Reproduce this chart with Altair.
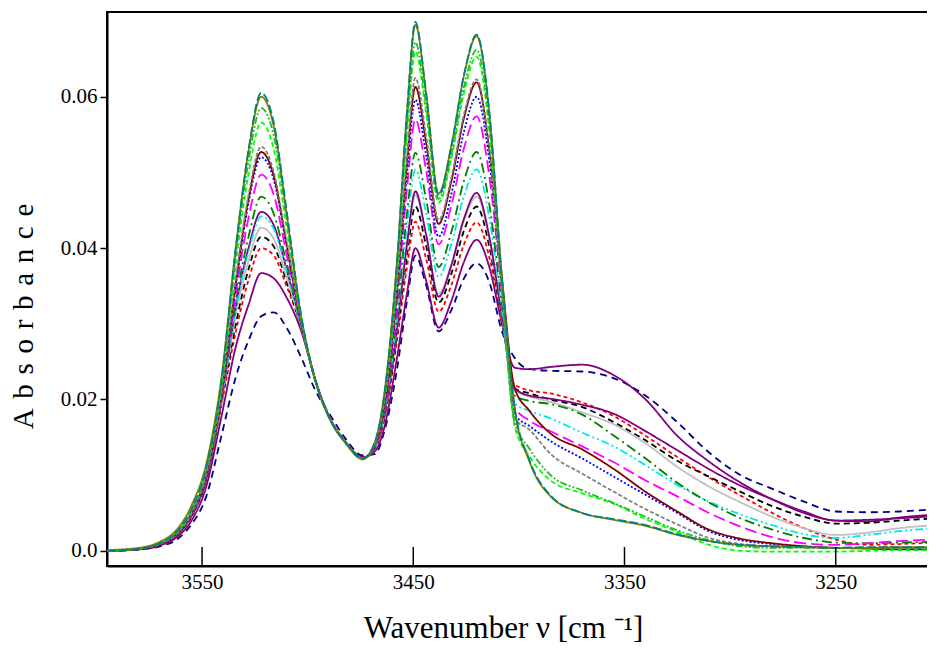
import altair as alt
import pandas as pd

WN = [3595, 3580, 3570, 3562, 3555, 3548, 3541, 3534, 3528, 3522, 3516, 3510, 3503, 3496, 3489,
      3482, 3474, 3468, 3464, 3458, 3453, 3449, 3444, 3438, 3432, 3426, 3420, 3414, 3408, 3402,
      3395, 3385, 3370, 3355, 3340, 3325, 3310, 3295, 3280, 3265, 3250, 3235, 3220, 3203]

navy = [0.0000, 0.0002, 0.0006, 0.0015, 0.0035, 0.0072, 0.0150,
        0.0230, 0.0278, 0.0310, 0.0315, 0.0295, 0.0255,
        0.0210, 0.0178, 0.0148, 0.0126, 0.0128,
        0.0155, 0.0235, 0.0330, 0.0390, 0.0352, 0.0290, 0.0318, 0.0360, 0.0380, 0.0355, 0.0290,
        0.0255, 0.0240, 0.0238, 0.0237, 0.0228, 0.0205, 0.0170, 0.0130, 0.0100, 0.0082, 0.0065, 0.0052, 0.0051, 0.0052, 0.0055]
purple2 = [0.0000, 0.0002, 0.0007, 0.0018, 0.0040, 0.0085, 0.0175, 0.0270, 0.0325, 0.0367, 0.0360, 0.0335, 0.0290,
           0.0222, 0.0173, 0.0144, 0.0124, 0.0132, 0.0160, 0.0250, 0.0340, 0.0400, 0.0358, 0.0295, 0.0330, 0.0382,
           0.0411, 0.0375, 0.0300, 0.0242, 0.0240, 0.0243, 0.0246, 0.0232, 0.0200, 0.0152, 0.0118, 0.0090, 0.0068,
           0.0050, 0.0040, 0.0039, 0.0044, 0.0048]
red = [0.0000, 0.0002, 0.0008, 0.0020, 0.0045, 0.0093, 0.0190, 0.0290, 0.0358, 0.0400, 0.0390, 0.0350, 0.0295,
       0.0223, 0.0173, 0.0144, 0.0123, 0.0136, 0.0170, 0.0272, 0.0375, 0.0435, 0.0387, 0.0316, 0.0351, 0.0405,
       0.0434, 0.0388, 0.0302, 0.0220, 0.0212, 0.0208, 0.0196, 0.0178, 0.0152, 0.0124, 0.0097, 0.0073, 0.0050,
       0.0030, 0.0015, 0.0008, 0.0009, 0.0011]
black = [0.0000, 0.0002, 0.0008, 0.0021, 0.0046, 0.0095, 0.0193, 0.0300, 0.0372, 0.0415, 0.0402, 0.0356, 0.0295,
         0.0222, 0.0172, 0.0143, 0.0122, 0.0137, 0.0172, 0.0280, 0.0390, 0.0455, 0.0404, 0.0328, 0.0366, 0.0423,
         0.0455, 0.0402, 0.0305, 0.0215, 0.0208, 0.0200, 0.0190, 0.0170, 0.0146, 0.0119, 0.0098, 0.0078, 0.0059,
         0.0045, 0.0036, 0.0037, 0.0040, 0.0043]
silver = [0.0000, 0.0003, 0.0009, 0.0022, 0.0048, 0.0097, 0.0195, 0.0312, 0.0383, 0.0427, 0.0412, 0.0362, 0.0296,
          0.0222, 0.0172, 0.0143, 0.0122, 0.0138, 0.0175, 0.0287, 0.0402, 0.0470, 0.0418, 0.0340, 0.0378, 0.0436,
          0.0468, 0.0412, 0.0308, 0.0212, 0.0204, 0.0197, 0.0183, 0.0167, 0.0142, 0.0111, 0.0085, 0.0064, 0.0045,
          0.0030, 0.0021, 0.0024, 0.0030, 0.0034]
purple = [0.0000, 0.0002, 0.0008, 0.0021, 0.0046, 0.0095, 0.0195, 0.0322, 0.0400, 0.0448, 0.0430, 0.0372, 0.0298,
          0.0222, 0.0172, 0.0143, 0.0122, 0.0138, 0.0175, 0.0288, 0.0405, 0.0475, 0.0419, 0.0336, 0.0377, 0.0439,
          0.0473, 0.0415, 0.0310, 0.0215, 0.0205, 0.0201, 0.0193, 0.0181, 0.0158, 0.0133, 0.0108, 0.0086, 0.0068,
          0.0052, 0.0040, 0.0041, 0.0043, 0.0046]
cyan = [0.0000, 0.0003, 0.0009, 0.0022, 0.0048, 0.0098, 0.0196, 0.0320, 0.0395, 0.0442, 0.0425, 0.0370, 0.0297,
        0.0222, 0.0172, 0.0143, 0.0122, 0.0139, 0.0178, 0.0298, 0.0428, 0.0504, 0.0447, 0.0362, 0.0405, 0.0469,
        0.0504, 0.0440, 0.0318, 0.0195, 0.0185, 0.0175, 0.0156, 0.0138, 0.0113, 0.0087, 0.0065, 0.0048, 0.0034,
        0.0022, 0.0017, 0.0021, 0.0026, 0.0030]
dkgreen = [0.0000, 0.0003, 0.0009, 0.0022, 0.0049, 0.0099, 0.0198, 0.0330, 0.0415, 0.0468, 0.0445, 0.0380, 0.0298,
           0.0222, 0.0172, 0.0143, 0.0122, 0.0140, 0.0180, 0.0305, 0.0445, 0.0526, 0.0466, 0.0375, 0.0421, 0.0489,
           0.0527, 0.0458, 0.0325, 0.0205, 0.0198, 0.0194, 0.0180, 0.0152, 0.0122, 0.0090, 0.0064, 0.0043, 0.0028,
           0.0017, 0.0011, 0.0010, 0.0011, 0.0012]
magenta = [0.0000, 0.0003, 0.0009, 0.0022, 0.0049, 0.0100, 0.0200, 0.0340, 0.0440, 0.0497, 0.0470, 0.0392, 0.0300,
           0.0222, 0.0172, 0.0143, 0.0122, 0.0141, 0.0184, 0.0320, 0.0478, 0.0570, 0.0504, 0.0405, 0.0456, 0.0532,
           0.0574, 0.0495, 0.0340, 0.0190, 0.0172, 0.0158, 0.0138, 0.0117, 0.0093, 0.0072, 0.0050, 0.0032, 0.0018,
           0.0010, 0.0008, 0.0010, 0.0013, 0.0015]
blue = [0.0000, 0.0003, 0.0009, 0.0023, 0.0050, 0.0101, 0.0203, 0.0350, 0.0460, 0.0520, 0.0490, 0.0403, 0.0302,
        0.0222, 0.0172, 0.0143, 0.0122, 0.0142, 0.0186, 0.0330, 0.0497, 0.0596, 0.0524, 0.0415, 0.0471, 0.0554,
        0.0600, 0.0515, 0.0345, 0.0180, 0.0165, 0.0145, 0.0122, 0.0098, 0.0074, 0.0050, 0.0026, 0.0014, 0.0009,
        0.0006, 0.0004, 0.0004, 0.0003, 0.0003]
maroon = [0.0000, 0.0003, 0.0009, 0.0023, 0.0050, 0.0101, 0.0203, 0.0355, 0.0465, 0.0527, 0.0495, 0.0406, 0.0302,
          0.0222, 0.0172, 0.0143, 0.0122, 0.0142, 0.0188, 0.0335, 0.0512, 0.0613, 0.0541, 0.0432, 0.0488, 0.0572,
          0.0619, 0.0530, 0.0360, 0.0215, 0.0185, 0.0155, 0.0134, 0.0108, 0.0078, 0.0052, 0.0028, 0.0016, 0.0010,
          0.0006, 0.0004, 0.0003, 0.0002, 0.0002]
grey = [0.0000, 0.0003, 0.0009, 0.0023, 0.0050, 0.0102, 0.0205, 0.0360, 0.0470, 0.0534, 0.0500, 0.0410, 0.0303,
        0.0222, 0.0172, 0.0143, 0.0122, 0.0143, 0.0190, 0.0340, 0.0520, 0.0625, 0.0550, 0.0437, 0.0493, 0.0577,
        0.0623, 0.0530, 0.0340, 0.0175, 0.0160, 0.0128, 0.0102, 0.0078, 0.0055, 0.0035, 0.0017, 0.0009, 0.0006,
        0.0005, 0.0004, 0.0004, 0.0004, 0.0004]
lime = [0.0000, 0.0003, 0.0010, 0.0024, 0.0053, 0.0106, 0.0212, 0.0380, 0.0498, 0.0566, 0.0530, 0.0428, 0.0305,
        0.0221, 0.0172, 0.0143, 0.0122, 0.0144, 0.0196, 0.0355, 0.0550, 0.0660, 0.0580, 0.0460, 0.0518, 0.0605,
        0.0653, 0.0555, 0.0350, 0.0165, 0.0125, 0.0093, 0.0076, 0.0062, 0.0042, 0.0025, 0.0008, 0.0000, -0.0001,
        -0.0001, -0.0001, 0.0000, 0.0001, 0.0001]
green = [0.0000, 0.0003, 0.0010, 0.0025, 0.0054, 0.0108, 0.0216, 0.0392, 0.0515, 0.0585, 0.0548, 0.0440, 0.0308,
         0.0222, 0.0172, 0.0143, 0.0122, 0.0144, 0.0198, 0.0362, 0.0560, 0.0672, 0.0590, 0.0465, 0.0524, 0.0613,
         0.0662, 0.0565, 0.0355, 0.0170, 0.0135, 0.0100, 0.0080, 0.0063, 0.0045, 0.0027, 0.0014, 0.0006, 0.0004,
         0.0004, 0.0004, 0.0004, 0.0004, 0.0004]
olive = [0.0001, 0.0004, 0.0012, 0.0028, 0.0060, 0.0115, 0.0225, 0.0402, 0.0528, 0.0600, 0.0560, 0.0446, 0.0308,
         0.0221, 0.0171, 0.0142, 0.0121, 0.0145, 0.0202, 0.0372, 0.0578, 0.0695, 0.0606, 0.0472, 0.0535, 0.0628,
         0.0680, 0.0578, 0.0358, 0.0188, 0.0118, 0.0072, 0.0050, 0.0041, 0.0033, 0.0021, 0.0013, 0.0008, 0.0006,
         0.0005, 0.0004, 0.0004, 0.0005, 0.0005]
teal = [0.0000, 0.0003, 0.0010, 0.0025, 0.0055, 0.0110, 0.0220, 0.0400, 0.0530, 0.0605, 0.0565, 0.0450, 0.0310,
        0.0222, 0.0172, 0.0143, 0.0122, 0.0145, 0.0200, 0.0370, 0.0580, 0.0699, 0.0607, 0.0470, 0.0534, 0.0629,
        0.0682, 0.0580, 0.0360, 0.0190, 0.0120, 0.0073, 0.0050, 0.0042, 0.0034, 0.0022, 0.0013, 0.0008, 0.0006,
        0.0005, 0.0004, 0.0005, 0.0005, 0.0005]

SERIES = ["navy", "purple2", "red", "black", "silver", "purple", "cyan", "dkgreen",
          "magenta", "blue", "maroon", "grey", "lime", "green", "olive", "teal"]
VALUES = [navy, purple2, red, black, silver, purple, cyan, dkgreen,
          magenta, blue, maroon, grey, lime, green, olive, teal]
COLORS = ["#000080", "#800080", "#ff0000", "#000000", "#c0c0c0", "#800080", "#00e5ee", "#008000",
          "#ff00ff", "#0000ff", "#800000", "#808080", "#00ff00", "#22bb22", "#808000", "#008080"]
DASHES = [[7, 5], [1, 0], [4, 3], [6, 4], [1, 0], [1, 0], [8, 3, 2, 3, 2, 3], [10, 4, 2, 4],
          [12, 5], [2, 2], [1, 0], [4, 2], [5, 3], [7, 2, 2, 2, 2, 2], [1, 0], [9, 3]]
X_TICKS = [3550, 3450, 3350, 3250]
Y_TICKS = [0.0, 0.02, 0.04, 0.06]

rows = []
for k, (name, vals) in enumerate(zip(SERIES, VALUES)):
    assert len(vals) == len(WN), name
    for w, v in zip(WN, vals):
        rows.append({"series": f"{k:02d}_{name}", "wn": w, "abs": v})
df = pd.DataFrame(rows)
domain_names = [f"{k:02d}_{n}" for k, n in enumerate(SERIES)]

FONT = "Liberation Serif"
SP = "\u2004"
Y_TITLE = SP.join(list("Absorbance"))

x_scale = alt.Scale(domain=[3595, 3203], nice=False, zero=False)
y_scale = alt.Scale(domain=[-0.002, 0.0712], nice=False, zero=False)

lines = alt.Chart(df).mark_line(interpolate="monotone", strokeWidth=1.8, clip=True).encode(
    x=alt.X("wn:Q", scale=x_scale,
            axis=alt.Axis(values=X_TICKS, format="d", tickSize=0, labelPadding=5, labelFontSize=21,
                          title="Wavenumber  ν [cm ⁻¹]", titleFontSize=31, titleFontWeight="normal",
                          titleX=396, titleY=62, titleBaseline="middle", titleAnchor="start",
                          titleAlign="center", grid=False)),
    y=alt.Y("abs:Q", scale=y_scale,
            axis=alt.Axis(values=Y_TICKS, tickSize=7, labelPadding=3, labelFontSize=21, grid=False,
                          labelExpr="datum.value == 0 ? '0.0' : format(datum.value, '.2f')",
                          title=Y_TITLE, titleFontSize=29, titleFontWeight="normal",
                          titleX=-84, titleY=304, titleAngle=270, titleAlign="center",
                          titleBaseline="middle", titleAnchor="start")),
    color=alt.Color("series:N", scale=alt.Scale(domain=domain_names, range=COLORS), legend=None),
    strokeDash=alt.StrokeDash("series:N", scale=alt.Scale(domain=domain_names, range=DASHES), legend=None),
    order=alt.Order("wn:Q", sort="descending"),
)

tick_df = pd.DataFrame({"wn": X_TICKS})
ticks = alt.Chart(tick_df).mark_rule(color="black", strokeWidth=1.5).encode(
    x=alt.X("wn:Q", scale=x_scale),
    y=alt.value(535),
    y2=alt.value(554),
)

chart = alt.layer(lines, ticks).properties(
    width=828, height=554,
    autosize=alt.AutoSizeParams(type="none"),
    padding={"left": 99, "top": 4, "right": -8, "bottom": 80},
).configure_view(
    stroke="black", strokeWidth=2
).configure_axis(
    labelFont=FONT, titleFont=FONT, labelColor="black", titleColor="black",
    domainColor="black", domainWidth=2, tickColor="black", tickWidth=1.5,
)

chart.save("out.html", embed_options={"renderer": "svg", "actions": False})
